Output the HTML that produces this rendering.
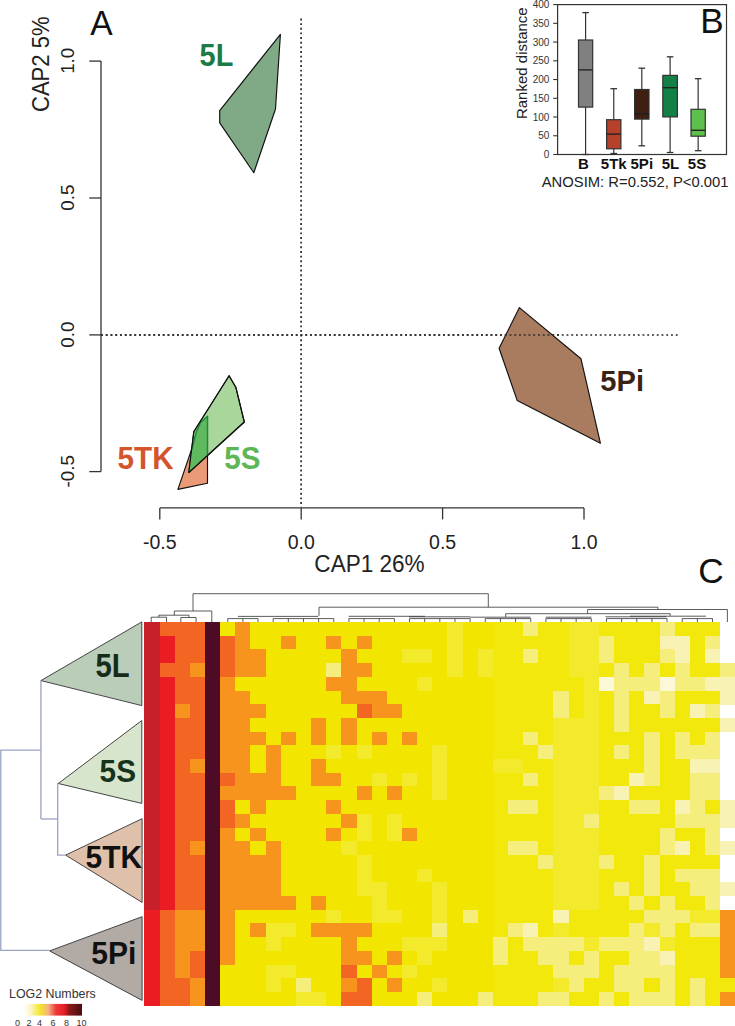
<!DOCTYPE html><html><head><meta charset="utf-8"><style>html,body{margin:0;padding:0;background:#fff;}svg{display:block;}</style></head><body>
<svg width="735" height="1026" viewBox="0 0 735 1026" font-family='"Liberation Sans", sans-serif'>
<rect width="735" height="1026" fill="#fff"/>
<g shape-rendering="crispEdges">
<rect x="144.40" y="622.00" width="15.45" height="14.00" fill="#c8202a"/>
<rect x="159.55" y="622.00" width="45.75" height="14.00" fill="#f26522"/>
<rect x="205.00" y="622.00" width="15.45" height="14.00" fill="#4d0b25"/>
<rect x="220.15" y="622.00" width="15.45" height="14.00" fill="#f2e600"/>
<rect x="235.30" y="622.00" width="15.45" height="14.00" fill="#f7941d"/>
<rect x="250.45" y="622.00" width="197.25" height="14.00" fill="#f2e600"/>
<rect x="447.40" y="622.00" width="15.45" height="14.00" fill="#f3ea2c"/>
<rect x="462.55" y="622.00" width="30.60" height="14.00" fill="#f2e600"/>
<rect x="492.85" y="622.00" width="30.60" height="14.00" fill="#f3e80c"/>
<rect x="523.15" y="622.00" width="15.45" height="14.00" fill="#f5ee7c"/>
<rect x="538.30" y="622.00" width="30.60" height="14.00" fill="#f3e80c"/>
<rect x="568.60" y="622.00" width="30.60" height="14.00" fill="#f3ea2c"/>
<rect x="598.90" y="622.00" width="60.90" height="14.00" fill="#f3e80c"/>
<rect x="659.50" y="622.00" width="15.45" height="14.00" fill="#f5ee7c"/>
<rect x="674.65" y="622.00" width="45.75" height="14.00" fill="#f3e80c"/>
<rect x="144.40" y="635.70" width="15.45" height="14.00" fill="#c8202a"/>
<rect x="159.55" y="635.70" width="15.45" height="14.00" fill="#ec1c24"/>
<rect x="174.70" y="635.70" width="30.60" height="14.00" fill="#f26522"/>
<rect x="205.00" y="635.70" width="15.45" height="14.00" fill="#4d0b25"/>
<rect x="220.15" y="635.70" width="15.45" height="14.00" fill="#f26522"/>
<rect x="235.30" y="635.70" width="15.45" height="14.00" fill="#f7941d"/>
<rect x="250.45" y="635.70" width="30.60" height="14.00" fill="#f2e600"/>
<rect x="280.75" y="635.70" width="15.45" height="14.00" fill="#f7941d"/>
<rect x="295.90" y="635.70" width="30.60" height="14.00" fill="#f2e600"/>
<rect x="326.20" y="635.70" width="15.45" height="14.00" fill="#f7941d"/>
<rect x="341.35" y="635.70" width="15.45" height="14.00" fill="#f2e600"/>
<rect x="356.50" y="635.70" width="15.45" height="14.00" fill="#f7941d"/>
<rect x="371.65" y="635.70" width="76.05" height="14.00" fill="#f2e600"/>
<rect x="447.40" y="635.70" width="15.45" height="14.00" fill="#f3ea2c"/>
<rect x="462.55" y="635.70" width="30.60" height="14.00" fill="#f2e600"/>
<rect x="492.85" y="635.70" width="76.05" height="14.00" fill="#f3e80c"/>
<rect x="568.60" y="635.70" width="30.60" height="14.00" fill="#f3ea2c"/>
<rect x="598.90" y="635.70" width="15.45" height="14.00" fill="#f5ee7c"/>
<rect x="614.05" y="635.70" width="45.75" height="14.00" fill="#f3e80c"/>
<rect x="659.50" y="635.70" width="30.60" height="14.00" fill="#f8f3b4"/>
<rect x="689.80" y="635.70" width="15.45" height="14.00" fill="#f3e80c"/>
<rect x="704.95" y="635.70" width="15.45" height="14.00" fill="#f5ee7c"/>
<rect x="144.40" y="649.40" width="15.45" height="14.00" fill="#c8202a"/>
<rect x="159.55" y="649.40" width="15.45" height="14.00" fill="#ec1c24"/>
<rect x="174.70" y="649.40" width="30.60" height="14.00" fill="#f26522"/>
<rect x="205.00" y="649.40" width="15.45" height="14.00" fill="#4d0b25"/>
<rect x="220.15" y="649.40" width="15.45" height="14.00" fill="#f26522"/>
<rect x="235.30" y="649.40" width="30.60" height="14.00" fill="#f7941d"/>
<rect x="265.60" y="649.40" width="76.05" height="14.00" fill="#f2e600"/>
<rect x="341.35" y="649.40" width="15.45" height="14.00" fill="#f7941d"/>
<rect x="356.50" y="649.40" width="45.75" height="14.00" fill="#f2e600"/>
<rect x="401.95" y="649.40" width="30.60" height="14.00" fill="#f3ea2c"/>
<rect x="432.25" y="649.40" width="15.45" height="14.00" fill="#f2e600"/>
<rect x="447.40" y="649.40" width="15.45" height="14.00" fill="#f3ea2c"/>
<rect x="462.55" y="649.40" width="15.45" height="14.00" fill="#f2e600"/>
<rect x="477.70" y="649.40" width="15.45" height="14.00" fill="#f3ea2c"/>
<rect x="492.85" y="649.40" width="30.60" height="14.00" fill="#f3e80c"/>
<rect x="523.15" y="649.40" width="15.45" height="14.00" fill="#f5ee7c"/>
<rect x="538.30" y="649.40" width="30.60" height="14.00" fill="#f3e80c"/>
<rect x="568.60" y="649.40" width="30.60" height="14.00" fill="#f3ea2c"/>
<rect x="598.90" y="649.40" width="15.45" height="14.00" fill="#f5ee7c"/>
<rect x="614.05" y="649.40" width="45.75" height="14.00" fill="#f3e80c"/>
<rect x="659.50" y="649.40" width="15.45" height="14.00" fill="#f5ee7c"/>
<rect x="674.65" y="649.40" width="15.45" height="14.00" fill="#f8f3b4"/>
<rect x="689.80" y="649.40" width="15.45" height="14.00" fill="#f3e80c"/>
<rect x="704.95" y="649.40" width="15.45" height="14.00" fill="#f8f3b4"/>
<rect x="144.40" y="663.10" width="15.45" height="14.00" fill="#c8202a"/>
<rect x="159.55" y="663.10" width="30.60" height="14.00" fill="#f26522"/>
<rect x="189.85" y="663.10" width="15.45" height="14.00" fill="#f7941d"/>
<rect x="205.00" y="663.10" width="15.45" height="14.00" fill="#4d0b25"/>
<rect x="220.15" y="663.10" width="15.45" height="14.00" fill="#f26522"/>
<rect x="235.30" y="663.10" width="30.60" height="14.00" fill="#f7941d"/>
<rect x="265.60" y="663.10" width="60.90" height="14.00" fill="#f2e600"/>
<rect x="326.20" y="663.10" width="15.45" height="14.00" fill="#f5ee7c"/>
<rect x="341.35" y="663.10" width="30.60" height="14.00" fill="#f7941d"/>
<rect x="371.65" y="663.10" width="76.05" height="14.00" fill="#f2e600"/>
<rect x="447.40" y="663.10" width="15.45" height="14.00" fill="#f3ea2c"/>
<rect x="462.55" y="663.10" width="15.45" height="14.00" fill="#f2e600"/>
<rect x="477.70" y="663.10" width="15.45" height="14.00" fill="#f3ea2c"/>
<rect x="492.85" y="663.10" width="76.05" height="14.00" fill="#f3e80c"/>
<rect x="568.60" y="663.10" width="30.60" height="14.00" fill="#f3ea2c"/>
<rect x="598.90" y="663.10" width="15.45" height="14.00" fill="#f3e80c"/>
<rect x="614.05" y="663.10" width="15.45" height="14.00" fill="#f5ee7c"/>
<rect x="629.20" y="663.10" width="15.45" height="14.00" fill="#f3e80c"/>
<rect x="644.35" y="663.10" width="15.45" height="14.00" fill="#f5ee7c"/>
<rect x="659.50" y="663.10" width="15.45" height="14.00" fill="#f3e80c"/>
<rect x="674.65" y="663.10" width="15.45" height="14.00" fill="#f5ee7c"/>
<rect x="689.80" y="663.10" width="30.60" height="14.00" fill="#f3e80c"/>
<rect x="720.10" y="663.10" width="15.45" height="14.00" fill="#f5ee7c"/>
<rect x="144.40" y="676.80" width="15.45" height="14.00" fill="#c8202a"/>
<rect x="159.55" y="676.80" width="15.45" height="14.00" fill="#ec1c24"/>
<rect x="174.70" y="676.80" width="30.60" height="14.00" fill="#f26522"/>
<rect x="205.00" y="676.80" width="15.45" height="14.00" fill="#4d0b25"/>
<rect x="220.15" y="676.80" width="15.45" height="14.00" fill="#f7941d"/>
<rect x="235.30" y="676.80" width="91.20" height="14.00" fill="#f2e600"/>
<rect x="326.20" y="676.80" width="30.60" height="14.00" fill="#f7941d"/>
<rect x="356.50" y="676.80" width="60.90" height="14.00" fill="#f2e600"/>
<rect x="417.10" y="676.80" width="15.45" height="14.00" fill="#f3ea2c"/>
<rect x="432.25" y="676.80" width="60.90" height="14.00" fill="#f2e600"/>
<rect x="492.85" y="676.80" width="91.20" height="14.00" fill="#f3e80c"/>
<rect x="583.75" y="676.80" width="15.45" height="14.00" fill="#f3ea2c"/>
<rect x="598.90" y="676.80" width="15.45" height="14.00" fill="#fbf8d8"/>
<rect x="614.05" y="676.80" width="45.75" height="14.00" fill="#f5ee7c"/>
<rect x="659.50" y="676.80" width="15.45" height="14.00" fill="#fbf8d8"/>
<rect x="674.65" y="676.80" width="30.60" height="14.00" fill="#f5ee7c"/>
<rect x="704.95" y="676.80" width="30.60" height="14.00" fill="#f8f3b4"/>
<rect x="144.40" y="690.50" width="15.45" height="14.00" fill="#c8202a"/>
<rect x="159.55" y="690.50" width="15.45" height="14.00" fill="#ec1c24"/>
<rect x="174.70" y="690.50" width="30.60" height="14.00" fill="#f26522"/>
<rect x="205.00" y="690.50" width="15.45" height="14.00" fill="#4d0b25"/>
<rect x="220.15" y="690.50" width="30.60" height="14.00" fill="#f7941d"/>
<rect x="250.45" y="690.50" width="91.20" height="14.00" fill="#f2e600"/>
<rect x="341.35" y="690.50" width="45.75" height="14.00" fill="#f7941d"/>
<rect x="386.80" y="690.50" width="106.35" height="14.00" fill="#f2e600"/>
<rect x="492.85" y="690.50" width="60.90" height="14.00" fill="#f3e80c"/>
<rect x="553.45" y="690.50" width="15.45" height="14.00" fill="#f5ee7c"/>
<rect x="568.60" y="690.50" width="15.45" height="14.00" fill="#f3e80c"/>
<rect x="583.75" y="690.50" width="15.45" height="14.00" fill="#f3ea2c"/>
<rect x="598.90" y="690.50" width="15.45" height="14.00" fill="#f3e80c"/>
<rect x="614.05" y="690.50" width="15.45" height="14.00" fill="#f5ee7c"/>
<rect x="629.20" y="690.50" width="15.45" height="14.00" fill="#f3e80c"/>
<rect x="644.35" y="690.50" width="15.45" height="14.00" fill="#f8f3b4"/>
<rect x="659.50" y="690.50" width="15.45" height="14.00" fill="#f5ee7c"/>
<rect x="674.65" y="690.50" width="45.75" height="14.00" fill="#f3e80c"/>
<rect x="720.10" y="690.50" width="15.45" height="14.00" fill="#f8f3b4"/>
<rect x="144.40" y="704.20" width="15.45" height="14.00" fill="#c8202a"/>
<rect x="159.55" y="704.20" width="15.45" height="14.00" fill="#ec1c24"/>
<rect x="174.70" y="704.20" width="15.45" height="14.00" fill="#f7941d"/>
<rect x="189.85" y="704.20" width="15.45" height="14.00" fill="#f26522"/>
<rect x="205.00" y="704.20" width="15.45" height="14.00" fill="#4d0b25"/>
<rect x="220.15" y="704.20" width="45.75" height="14.00" fill="#f7941d"/>
<rect x="265.60" y="704.20" width="91.20" height="14.00" fill="#f2e600"/>
<rect x="356.50" y="704.20" width="15.45" height="14.00" fill="#f26522"/>
<rect x="371.65" y="704.20" width="30.60" height="14.00" fill="#f7941d"/>
<rect x="401.95" y="704.20" width="91.20" height="14.00" fill="#f2e600"/>
<rect x="492.85" y="704.20" width="60.90" height="14.00" fill="#f3e80c"/>
<rect x="553.45" y="704.20" width="15.45" height="14.00" fill="#f5ee7c"/>
<rect x="568.60" y="704.20" width="15.45" height="14.00" fill="#f3e80c"/>
<rect x="583.75" y="704.20" width="15.45" height="14.00" fill="#f3ea2c"/>
<rect x="598.90" y="704.20" width="15.45" height="14.00" fill="#f3e80c"/>
<rect x="614.05" y="704.20" width="15.45" height="14.00" fill="#f5ee7c"/>
<rect x="629.20" y="704.20" width="30.60" height="14.00" fill="#f3e80c"/>
<rect x="659.50" y="704.20" width="15.45" height="14.00" fill="#f5ee7c"/>
<rect x="674.65" y="704.20" width="15.45" height="14.00" fill="#f3e80c"/>
<rect x="689.80" y="704.20" width="15.45" height="14.00" fill="#f8f3b4"/>
<rect x="704.95" y="704.20" width="15.45" height="14.00" fill="#f5ee7c"/>
<rect x="144.40" y="717.90" width="15.45" height="14.00" fill="#c8202a"/>
<rect x="159.55" y="717.90" width="15.45" height="14.00" fill="#ec1c24"/>
<rect x="174.70" y="717.90" width="30.60" height="14.00" fill="#f26522"/>
<rect x="205.00" y="717.90" width="15.45" height="14.00" fill="#4d0b25"/>
<rect x="220.15" y="717.90" width="30.60" height="14.00" fill="#f7941d"/>
<rect x="250.45" y="717.90" width="60.90" height="14.00" fill="#f2e600"/>
<rect x="311.05" y="717.90" width="15.45" height="14.00" fill="#f7941d"/>
<rect x="326.20" y="717.90" width="15.45" height="14.00" fill="#f2e600"/>
<rect x="341.35" y="717.90" width="15.45" height="14.00" fill="#f7941d"/>
<rect x="356.50" y="717.90" width="136.65" height="14.00" fill="#f2e600"/>
<rect x="492.85" y="717.90" width="60.90" height="14.00" fill="#f3e80c"/>
<rect x="553.45" y="717.90" width="45.75" height="14.00" fill="#f3ea2c"/>
<rect x="598.90" y="717.90" width="15.45" height="14.00" fill="#f3e80c"/>
<rect x="614.05" y="717.90" width="15.45" height="14.00" fill="#f5ee7c"/>
<rect x="629.20" y="717.90" width="91.20" height="14.00" fill="#f3e80c"/>
<rect x="720.10" y="717.90" width="15.45" height="14.00" fill="#f8f3b4"/>
<rect x="144.40" y="731.60" width="15.45" height="14.00" fill="#c8202a"/>
<rect x="159.55" y="731.60" width="15.45" height="14.00" fill="#ec1c24"/>
<rect x="174.70" y="731.60" width="30.60" height="14.00" fill="#f26522"/>
<rect x="205.00" y="731.60" width="15.45" height="14.00" fill="#4d0b25"/>
<rect x="220.15" y="731.60" width="45.75" height="14.00" fill="#f7941d"/>
<rect x="265.60" y="731.60" width="15.45" height="14.00" fill="#f2e600"/>
<rect x="280.75" y="731.60" width="15.45" height="14.00" fill="#f7941d"/>
<rect x="295.90" y="731.60" width="15.45" height="14.00" fill="#f2e600"/>
<rect x="311.05" y="731.60" width="15.45" height="14.00" fill="#f7941d"/>
<rect x="326.20" y="731.60" width="15.45" height="14.00" fill="#f2e600"/>
<rect x="341.35" y="731.60" width="15.45" height="14.00" fill="#f7941d"/>
<rect x="356.50" y="731.60" width="15.45" height="14.00" fill="#f2e600"/>
<rect x="371.65" y="731.60" width="15.45" height="14.00" fill="#f7941d"/>
<rect x="386.80" y="731.60" width="15.45" height="14.00" fill="#f2e600"/>
<rect x="401.95" y="731.60" width="15.45" height="14.00" fill="#f7941d"/>
<rect x="417.10" y="731.60" width="76.05" height="14.00" fill="#f2e600"/>
<rect x="492.85" y="731.60" width="30.60" height="14.00" fill="#f3e80c"/>
<rect x="523.15" y="731.60" width="15.45" height="14.00" fill="#f5ee7c"/>
<rect x="538.30" y="731.60" width="15.45" height="14.00" fill="#f3e80c"/>
<rect x="553.45" y="731.60" width="45.75" height="14.00" fill="#f3ea2c"/>
<rect x="598.90" y="731.60" width="45.75" height="14.00" fill="#f3e80c"/>
<rect x="644.35" y="731.60" width="15.45" height="14.00" fill="#f5ee7c"/>
<rect x="659.50" y="731.60" width="15.45" height="14.00" fill="#f3e80c"/>
<rect x="674.65" y="731.60" width="15.45" height="14.00" fill="#f5ee7c"/>
<rect x="689.80" y="731.60" width="15.45" height="14.00" fill="#f3e80c"/>
<rect x="704.95" y="731.60" width="15.45" height="14.00" fill="#f5ee7c"/>
<rect x="144.40" y="745.30" width="15.45" height="14.00" fill="#c8202a"/>
<rect x="159.55" y="745.30" width="15.45" height="14.00" fill="#ec1c24"/>
<rect x="174.70" y="745.30" width="30.60" height="14.00" fill="#f26522"/>
<rect x="205.00" y="745.30" width="15.45" height="14.00" fill="#4d0b25"/>
<rect x="220.15" y="745.30" width="30.60" height="14.00" fill="#f7941d"/>
<rect x="250.45" y="745.30" width="15.45" height="14.00" fill="#f2e600"/>
<rect x="265.60" y="745.30" width="15.45" height="14.00" fill="#f7941d"/>
<rect x="280.75" y="745.30" width="45.75" height="14.00" fill="#f2e600"/>
<rect x="326.20" y="745.30" width="15.45" height="14.00" fill="#f3ea2c"/>
<rect x="341.35" y="745.30" width="15.45" height="14.00" fill="#f2e600"/>
<rect x="356.50" y="745.30" width="15.45" height="14.00" fill="#f3ea2c"/>
<rect x="371.65" y="745.30" width="60.90" height="14.00" fill="#f2e600"/>
<rect x="432.25" y="745.30" width="15.45" height="14.00" fill="#f3ea2c"/>
<rect x="447.40" y="745.30" width="45.75" height="14.00" fill="#f2e600"/>
<rect x="492.85" y="745.30" width="45.75" height="14.00" fill="#f3e80c"/>
<rect x="538.30" y="745.30" width="15.45" height="14.00" fill="#f5ee7c"/>
<rect x="553.45" y="745.30" width="45.75" height="14.00" fill="#f3ea2c"/>
<rect x="598.90" y="745.30" width="15.45" height="14.00" fill="#f3e80c"/>
<rect x="614.05" y="745.30" width="15.45" height="14.00" fill="#f5ee7c"/>
<rect x="629.20" y="745.30" width="15.45" height="14.00" fill="#f3e80c"/>
<rect x="644.35" y="745.30" width="15.45" height="14.00" fill="#f5ee7c"/>
<rect x="659.50" y="745.30" width="15.45" height="14.00" fill="#f3e80c"/>
<rect x="674.65" y="745.30" width="45.75" height="14.00" fill="#f5ee7c"/>
<rect x="144.40" y="759.00" width="15.45" height="14.00" fill="#c8202a"/>
<rect x="159.55" y="759.00" width="15.45" height="14.00" fill="#ec1c24"/>
<rect x="174.70" y="759.00" width="15.45" height="14.00" fill="#f26522"/>
<rect x="189.85" y="759.00" width="15.45" height="14.00" fill="#f7941d"/>
<rect x="205.00" y="759.00" width="15.45" height="14.00" fill="#4d0b25"/>
<rect x="220.15" y="759.00" width="30.60" height="14.00" fill="#f7941d"/>
<rect x="250.45" y="759.00" width="15.45" height="14.00" fill="#f2e600"/>
<rect x="265.60" y="759.00" width="15.45" height="14.00" fill="#f7941d"/>
<rect x="280.75" y="759.00" width="30.60" height="14.00" fill="#f2e600"/>
<rect x="311.05" y="759.00" width="15.45" height="14.00" fill="#f7941d"/>
<rect x="326.20" y="759.00" width="106.35" height="14.00" fill="#f2e600"/>
<rect x="432.25" y="759.00" width="15.45" height="14.00" fill="#f3ea2c"/>
<rect x="447.40" y="759.00" width="45.75" height="14.00" fill="#f2e600"/>
<rect x="492.85" y="759.00" width="30.60" height="14.00" fill="#f3ea2c"/>
<rect x="523.15" y="759.00" width="30.60" height="14.00" fill="#f3e80c"/>
<rect x="553.45" y="759.00" width="45.75" height="14.00" fill="#f3ea2c"/>
<rect x="598.90" y="759.00" width="45.75" height="14.00" fill="#f3e80c"/>
<rect x="644.35" y="759.00" width="15.45" height="14.00" fill="#f5ee7c"/>
<rect x="659.50" y="759.00" width="30.60" height="14.00" fill="#f3e80c"/>
<rect x="689.80" y="759.00" width="30.60" height="14.00" fill="#f8f3b4"/>
<rect x="144.40" y="772.70" width="15.45" height="14.00" fill="#c8202a"/>
<rect x="159.55" y="772.70" width="15.45" height="14.00" fill="#ec1c24"/>
<rect x="174.70" y="772.70" width="30.60" height="14.00" fill="#f26522"/>
<rect x="205.00" y="772.70" width="15.45" height="14.00" fill="#4d0b25"/>
<rect x="220.15" y="772.70" width="15.45" height="14.00" fill="#f26522"/>
<rect x="235.30" y="772.70" width="45.75" height="14.00" fill="#f7941d"/>
<rect x="280.75" y="772.70" width="30.60" height="14.00" fill="#f2e600"/>
<rect x="311.05" y="772.70" width="30.60" height="14.00" fill="#f7941d"/>
<rect x="341.35" y="772.70" width="30.60" height="14.00" fill="#f2e600"/>
<rect x="371.65" y="772.70" width="15.45" height="14.00" fill="#f3ea2c"/>
<rect x="386.80" y="772.70" width="15.45" height="14.00" fill="#f2e600"/>
<rect x="401.95" y="772.70" width="15.45" height="14.00" fill="#f3ea2c"/>
<rect x="417.10" y="772.70" width="15.45" height="14.00" fill="#f2e600"/>
<rect x="432.25" y="772.70" width="15.45" height="14.00" fill="#f3ea2c"/>
<rect x="447.40" y="772.70" width="45.75" height="14.00" fill="#f2e600"/>
<rect x="492.85" y="772.70" width="30.60" height="14.00" fill="#f3e80c"/>
<rect x="523.15" y="772.70" width="15.45" height="14.00" fill="#f5ee7c"/>
<rect x="538.30" y="772.70" width="15.45" height="14.00" fill="#f3e80c"/>
<rect x="553.45" y="772.70" width="45.75" height="14.00" fill="#f3ea2c"/>
<rect x="598.90" y="772.70" width="30.60" height="14.00" fill="#f3e80c"/>
<rect x="629.20" y="772.70" width="15.45" height="14.00" fill="#f8f3b4"/>
<rect x="644.35" y="772.70" width="15.45" height="14.00" fill="#f5ee7c"/>
<rect x="659.50" y="772.70" width="30.60" height="14.00" fill="#f3e80c"/>
<rect x="689.80" y="772.70" width="30.60" height="14.00" fill="#f5ee7c"/>
<rect x="144.40" y="786.40" width="15.45" height="14.00" fill="#c8202a"/>
<rect x="159.55" y="786.40" width="15.45" height="14.00" fill="#ec1c24"/>
<rect x="174.70" y="786.40" width="30.60" height="14.00" fill="#f26522"/>
<rect x="205.00" y="786.40" width="15.45" height="14.00" fill="#4d0b25"/>
<rect x="220.15" y="786.40" width="76.05" height="14.00" fill="#f7941d"/>
<rect x="295.90" y="786.40" width="60.90" height="14.00" fill="#f2e600"/>
<rect x="356.50" y="786.40" width="15.45" height="14.00" fill="#f7941d"/>
<rect x="371.65" y="786.40" width="15.45" height="14.00" fill="#f2e600"/>
<rect x="386.80" y="786.40" width="15.45" height="14.00" fill="#f7941d"/>
<rect x="401.95" y="786.40" width="30.60" height="14.00" fill="#f2e600"/>
<rect x="432.25" y="786.40" width="15.45" height="14.00" fill="#f3ea2c"/>
<rect x="447.40" y="786.40" width="45.75" height="14.00" fill="#f2e600"/>
<rect x="492.85" y="786.40" width="60.90" height="14.00" fill="#f3e80c"/>
<rect x="553.45" y="786.40" width="45.75" height="14.00" fill="#f3ea2c"/>
<rect x="598.90" y="786.40" width="15.45" height="14.00" fill="#f5ee7c"/>
<rect x="614.05" y="786.40" width="15.45" height="14.00" fill="#f8f3b4"/>
<rect x="629.20" y="786.40" width="60.90" height="14.00" fill="#f3e80c"/>
<rect x="689.80" y="786.40" width="30.60" height="14.00" fill="#f5ee7c"/>
<rect x="144.40" y="800.10" width="15.45" height="14.00" fill="#c8202a"/>
<rect x="159.55" y="800.10" width="15.45" height="14.00" fill="#ec1c24"/>
<rect x="174.70" y="800.10" width="30.60" height="14.00" fill="#f26522"/>
<rect x="205.00" y="800.10" width="15.45" height="14.00" fill="#4d0b25"/>
<rect x="220.15" y="800.10" width="15.45" height="14.00" fill="#f26522"/>
<rect x="235.30" y="800.10" width="15.45" height="14.00" fill="#f2e600"/>
<rect x="250.45" y="800.10" width="15.45" height="14.00" fill="#f7941d"/>
<rect x="265.60" y="800.10" width="60.90" height="14.00" fill="#f2e600"/>
<rect x="326.20" y="800.10" width="15.45" height="14.00" fill="#f7941d"/>
<rect x="341.35" y="800.10" width="151.80" height="14.00" fill="#f2e600"/>
<rect x="492.85" y="800.10" width="15.45" height="14.00" fill="#f3e80c"/>
<rect x="508.00" y="800.10" width="30.60" height="14.00" fill="#f5ee7c"/>
<rect x="538.30" y="800.10" width="15.45" height="14.00" fill="#f3e80c"/>
<rect x="553.45" y="800.10" width="45.75" height="14.00" fill="#f3ea2c"/>
<rect x="598.90" y="800.10" width="30.60" height="14.00" fill="#f3e80c"/>
<rect x="629.20" y="800.10" width="30.60" height="14.00" fill="#f5ee7c"/>
<rect x="659.50" y="800.10" width="15.45" height="14.00" fill="#f3e80c"/>
<rect x="674.65" y="800.10" width="15.45" height="14.00" fill="#f8f3b4"/>
<rect x="689.80" y="800.10" width="15.45" height="14.00" fill="#f5ee7c"/>
<rect x="704.95" y="800.10" width="15.45" height="14.00" fill="#f3e80c"/>
<rect x="720.10" y="800.10" width="15.45" height="14.00" fill="#f8f3b4"/>
<rect x="144.40" y="813.80" width="15.45" height="14.00" fill="#c8202a"/>
<rect x="159.55" y="813.80" width="15.45" height="14.00" fill="#ec1c24"/>
<rect x="174.70" y="813.80" width="30.60" height="14.00" fill="#f26522"/>
<rect x="205.00" y="813.80" width="15.45" height="14.00" fill="#4d0b25"/>
<rect x="220.15" y="813.80" width="15.45" height="14.00" fill="#f26522"/>
<rect x="235.30" y="813.80" width="15.45" height="14.00" fill="#f7941d"/>
<rect x="250.45" y="813.80" width="91.20" height="14.00" fill="#f2e600"/>
<rect x="341.35" y="813.80" width="15.45" height="14.00" fill="#f7941d"/>
<rect x="356.50" y="813.80" width="15.45" height="14.00" fill="#f3ea2c"/>
<rect x="371.65" y="813.80" width="15.45" height="14.00" fill="#f2e600"/>
<rect x="386.80" y="813.80" width="15.45" height="14.00" fill="#f3ea2c"/>
<rect x="401.95" y="813.80" width="91.20" height="14.00" fill="#f2e600"/>
<rect x="492.85" y="813.80" width="60.90" height="14.00" fill="#f3e80c"/>
<rect x="553.45" y="813.80" width="30.60" height="14.00" fill="#f3ea2c"/>
<rect x="583.75" y="813.80" width="15.45" height="14.00" fill="#f5ee7c"/>
<rect x="598.90" y="813.80" width="76.05" height="14.00" fill="#f3e80c"/>
<rect x="674.65" y="813.80" width="45.75" height="14.00" fill="#f5ee7c"/>
<rect x="720.10" y="813.80" width="15.45" height="14.00" fill="#f8f3b4"/>
<rect x="144.40" y="827.50" width="15.45" height="14.00" fill="#c8202a"/>
<rect x="159.55" y="827.50" width="15.45" height="14.00" fill="#ec1c24"/>
<rect x="174.70" y="827.50" width="30.60" height="14.00" fill="#f26522"/>
<rect x="205.00" y="827.50" width="15.45" height="14.00" fill="#4d0b25"/>
<rect x="220.15" y="827.50" width="15.45" height="14.00" fill="#f7941d"/>
<rect x="235.30" y="827.50" width="15.45" height="14.00" fill="#f2e600"/>
<rect x="250.45" y="827.50" width="15.45" height="14.00" fill="#f7941d"/>
<rect x="265.60" y="827.50" width="60.90" height="14.00" fill="#f2e600"/>
<rect x="326.20" y="827.50" width="15.45" height="14.00" fill="#f7941d"/>
<rect x="341.35" y="827.50" width="15.45" height="14.00" fill="#f2e600"/>
<rect x="356.50" y="827.50" width="15.45" height="14.00" fill="#f3ea2c"/>
<rect x="371.65" y="827.50" width="15.45" height="14.00" fill="#f2e600"/>
<rect x="386.80" y="827.50" width="15.45" height="14.00" fill="#f3ea2c"/>
<rect x="401.95" y="827.50" width="15.45" height="14.00" fill="#f7941d"/>
<rect x="417.10" y="827.50" width="76.05" height="14.00" fill="#f2e600"/>
<rect x="492.85" y="827.50" width="60.90" height="14.00" fill="#f3e80c"/>
<rect x="553.45" y="827.50" width="45.75" height="14.00" fill="#f3ea2c"/>
<rect x="598.90" y="827.50" width="60.90" height="14.00" fill="#f3e80c"/>
<rect x="659.50" y="827.50" width="15.45" height="14.00" fill="#f5ee7c"/>
<rect x="674.65" y="827.50" width="30.60" height="14.00" fill="#f3e80c"/>
<rect x="704.95" y="827.50" width="15.45" height="14.00" fill="#f5ee7c"/>
<rect x="144.40" y="841.20" width="15.45" height="14.00" fill="#c8202a"/>
<rect x="159.55" y="841.20" width="15.45" height="14.00" fill="#ec1c24"/>
<rect x="174.70" y="841.20" width="15.45" height="14.00" fill="#f26522"/>
<rect x="189.85" y="841.20" width="15.45" height="14.00" fill="#f7941d"/>
<rect x="205.00" y="841.20" width="15.45" height="14.00" fill="#4d0b25"/>
<rect x="220.15" y="841.20" width="30.60" height="14.00" fill="#f7941d"/>
<rect x="250.45" y="841.20" width="15.45" height="14.00" fill="#f2e600"/>
<rect x="265.60" y="841.20" width="15.45" height="14.00" fill="#f7941d"/>
<rect x="280.75" y="841.20" width="60.90" height="14.00" fill="#f2e600"/>
<rect x="341.35" y="841.20" width="15.45" height="14.00" fill="#f3ea2c"/>
<rect x="356.50" y="841.20" width="136.65" height="14.00" fill="#f2e600"/>
<rect x="492.85" y="841.20" width="15.45" height="14.00" fill="#f3e80c"/>
<rect x="508.00" y="841.20" width="30.60" height="14.00" fill="#f5ee7c"/>
<rect x="538.30" y="841.20" width="15.45" height="14.00" fill="#f3e80c"/>
<rect x="553.45" y="841.20" width="45.75" height="14.00" fill="#f3ea2c"/>
<rect x="598.90" y="841.20" width="60.90" height="14.00" fill="#f3e80c"/>
<rect x="659.50" y="841.20" width="15.45" height="14.00" fill="#f5ee7c"/>
<rect x="674.65" y="841.20" width="15.45" height="14.00" fill="#f8f3b4"/>
<rect x="689.80" y="841.20" width="15.45" height="14.00" fill="#f3e80c"/>
<rect x="704.95" y="841.20" width="15.45" height="14.00" fill="#f5ee7c"/>
<rect x="720.10" y="841.20" width="15.45" height="14.00" fill="#f8f3b4"/>
<rect x="144.40" y="854.90" width="15.45" height="14.00" fill="#c8202a"/>
<rect x="159.55" y="854.90" width="15.45" height="14.00" fill="#ec1c24"/>
<rect x="174.70" y="854.90" width="30.60" height="14.00" fill="#f26522"/>
<rect x="205.00" y="854.90" width="15.45" height="14.00" fill="#4d0b25"/>
<rect x="220.15" y="854.90" width="60.90" height="14.00" fill="#f7941d"/>
<rect x="280.75" y="854.90" width="76.05" height="14.00" fill="#f2e600"/>
<rect x="356.50" y="854.90" width="15.45" height="14.00" fill="#f3ea2c"/>
<rect x="371.65" y="854.90" width="121.50" height="14.00" fill="#f2e600"/>
<rect x="492.85" y="854.90" width="45.75" height="14.00" fill="#f3e80c"/>
<rect x="538.30" y="854.90" width="15.45" height="14.00" fill="#f5ee7c"/>
<rect x="553.45" y="854.90" width="45.75" height="14.00" fill="#f3ea2c"/>
<rect x="598.90" y="854.90" width="15.45" height="14.00" fill="#f5ee7c"/>
<rect x="614.05" y="854.90" width="30.60" height="14.00" fill="#f3e80c"/>
<rect x="644.35" y="854.90" width="15.45" height="14.00" fill="#f5ee7c"/>
<rect x="659.50" y="854.90" width="60.90" height="14.00" fill="#f3e80c"/>
<rect x="144.40" y="868.60" width="15.45" height="14.00" fill="#c8202a"/>
<rect x="159.55" y="868.60" width="15.45" height="14.00" fill="#ec1c24"/>
<rect x="174.70" y="868.60" width="30.60" height="14.00" fill="#f26522"/>
<rect x="205.00" y="868.60" width="15.45" height="14.00" fill="#4d0b25"/>
<rect x="220.15" y="868.60" width="60.90" height="14.00" fill="#f7941d"/>
<rect x="280.75" y="868.60" width="76.05" height="14.00" fill="#f2e600"/>
<rect x="356.50" y="868.60" width="15.45" height="14.00" fill="#f3ea2c"/>
<rect x="371.65" y="868.60" width="45.75" height="14.00" fill="#f2e600"/>
<rect x="417.10" y="868.60" width="15.45" height="14.00" fill="#f3ea2c"/>
<rect x="432.25" y="868.60" width="60.90" height="14.00" fill="#f2e600"/>
<rect x="492.85" y="868.60" width="60.90" height="14.00" fill="#f3e80c"/>
<rect x="553.45" y="868.60" width="45.75" height="14.00" fill="#f3ea2c"/>
<rect x="598.90" y="868.60" width="45.75" height="14.00" fill="#f3e80c"/>
<rect x="644.35" y="868.60" width="15.45" height="14.00" fill="#f5ee7c"/>
<rect x="659.50" y="868.60" width="15.45" height="14.00" fill="#f3e80c"/>
<rect x="674.65" y="868.60" width="45.75" height="14.00" fill="#f5ee7c"/>
<rect x="144.40" y="882.30" width="15.45" height="14.00" fill="#c8202a"/>
<rect x="159.55" y="882.30" width="15.45" height="14.00" fill="#ec1c24"/>
<rect x="174.70" y="882.30" width="30.60" height="14.00" fill="#f26522"/>
<rect x="205.00" y="882.30" width="15.45" height="14.00" fill="#4d0b25"/>
<rect x="220.15" y="882.30" width="60.90" height="14.00" fill="#f7941d"/>
<rect x="280.75" y="882.30" width="76.05" height="14.00" fill="#f2e600"/>
<rect x="356.50" y="882.30" width="30.60" height="14.00" fill="#f3ea2c"/>
<rect x="386.80" y="882.30" width="45.75" height="14.00" fill="#f2e600"/>
<rect x="432.25" y="882.30" width="15.45" height="14.00" fill="#f3ea2c"/>
<rect x="447.40" y="882.30" width="45.75" height="14.00" fill="#f2e600"/>
<rect x="492.85" y="882.30" width="60.90" height="14.00" fill="#f3e80c"/>
<rect x="553.45" y="882.30" width="45.75" height="14.00" fill="#f3ea2c"/>
<rect x="598.90" y="882.30" width="15.45" height="14.00" fill="#f3e80c"/>
<rect x="614.05" y="882.30" width="15.45" height="14.00" fill="#f5ee7c"/>
<rect x="629.20" y="882.30" width="15.45" height="14.00" fill="#f3e80c"/>
<rect x="644.35" y="882.30" width="15.45" height="14.00" fill="#f5ee7c"/>
<rect x="659.50" y="882.30" width="30.60" height="14.00" fill="#f3e80c"/>
<rect x="689.80" y="882.30" width="30.60" height="14.00" fill="#f5ee7c"/>
<rect x="720.10" y="882.30" width="15.45" height="14.00" fill="#f8f3b4"/>
<rect x="144.40" y="896.00" width="15.45" height="14.00" fill="#c8202a"/>
<rect x="159.55" y="896.00" width="15.45" height="14.00" fill="#ec1c24"/>
<rect x="174.70" y="896.00" width="30.60" height="14.00" fill="#f26522"/>
<rect x="205.00" y="896.00" width="15.45" height="14.00" fill="#4d0b25"/>
<rect x="220.15" y="896.00" width="76.05" height="14.00" fill="#f7941d"/>
<rect x="295.90" y="896.00" width="15.45" height="14.00" fill="#f2e600"/>
<rect x="311.05" y="896.00" width="15.45" height="14.00" fill="#f7941d"/>
<rect x="326.20" y="896.00" width="45.75" height="14.00" fill="#f2e600"/>
<rect x="371.65" y="896.00" width="15.45" height="14.00" fill="#f3ea2c"/>
<rect x="386.80" y="896.00" width="45.75" height="14.00" fill="#f2e600"/>
<rect x="432.25" y="896.00" width="15.45" height="14.00" fill="#f3ea2c"/>
<rect x="447.40" y="896.00" width="45.75" height="14.00" fill="#f2e600"/>
<rect x="492.85" y="896.00" width="60.90" height="14.00" fill="#f3e80c"/>
<rect x="553.45" y="896.00" width="45.75" height="14.00" fill="#f3ea2c"/>
<rect x="598.90" y="896.00" width="30.60" height="14.00" fill="#f3e80c"/>
<rect x="629.20" y="896.00" width="15.45" height="14.00" fill="#f5ee7c"/>
<rect x="644.35" y="896.00" width="15.45" height="14.00" fill="#f3e80c"/>
<rect x="659.50" y="896.00" width="15.45" height="14.00" fill="#f5ee7c"/>
<rect x="674.65" y="896.00" width="30.60" height="14.00" fill="#f3e80c"/>
<rect x="704.95" y="896.00" width="15.45" height="14.00" fill="#f5ee7c"/>
<rect x="144.40" y="909.70" width="15.45" height="14.00" fill="#ec1c24"/>
<rect x="159.55" y="909.70" width="15.45" height="14.00" fill="#f26522"/>
<rect x="174.70" y="909.70" width="30.60" height="14.00" fill="#f7941d"/>
<rect x="205.00" y="909.70" width="15.45" height="14.00" fill="#4d0b25"/>
<rect x="220.15" y="909.70" width="15.45" height="14.00" fill="#f7941d"/>
<rect x="235.30" y="909.70" width="91.20" height="14.00" fill="#f2e600"/>
<rect x="326.20" y="909.70" width="15.45" height="14.00" fill="#f3ea2c"/>
<rect x="341.35" y="909.70" width="30.60" height="14.00" fill="#f2e600"/>
<rect x="371.65" y="909.70" width="30.60" height="14.00" fill="#f3ea2c"/>
<rect x="401.95" y="909.70" width="30.60" height="14.00" fill="#f2e600"/>
<rect x="432.25" y="909.70" width="15.45" height="14.00" fill="#f3ea2c"/>
<rect x="447.40" y="909.70" width="15.45" height="14.00" fill="#f2e600"/>
<rect x="462.55" y="909.70" width="15.45" height="14.00" fill="#f5ee7c"/>
<rect x="477.70" y="909.70" width="15.45" height="14.00" fill="#f2e600"/>
<rect x="492.85" y="909.70" width="60.90" height="14.00" fill="#f3e80c"/>
<rect x="553.45" y="909.70" width="15.45" height="14.00" fill="#f8f3b4"/>
<rect x="568.60" y="909.70" width="76.05" height="14.00" fill="#f3e80c"/>
<rect x="644.35" y="909.70" width="45.75" height="14.00" fill="#f5ee7c"/>
<rect x="689.80" y="909.70" width="30.60" height="14.00" fill="#f3ea2c"/>
<rect x="720.10" y="909.70" width="15.45" height="14.00" fill="#f7941d"/>
<rect x="144.40" y="923.40" width="15.45" height="14.00" fill="#ec1c24"/>
<rect x="159.55" y="923.40" width="15.45" height="14.00" fill="#f26522"/>
<rect x="174.70" y="923.40" width="30.60" height="14.00" fill="#f7941d"/>
<rect x="205.00" y="923.40" width="15.45" height="14.00" fill="#4d0b25"/>
<rect x="220.15" y="923.40" width="15.45" height="14.00" fill="#f7941d"/>
<rect x="235.30" y="923.40" width="15.45" height="14.00" fill="#f2e600"/>
<rect x="250.45" y="923.40" width="15.45" height="14.00" fill="#f7941d"/>
<rect x="265.60" y="923.40" width="30.60" height="14.00" fill="#f3ea2c"/>
<rect x="295.90" y="923.40" width="15.45" height="14.00" fill="#f2e600"/>
<rect x="311.05" y="923.40" width="60.90" height="14.00" fill="#f7941d"/>
<rect x="371.65" y="923.40" width="60.90" height="14.00" fill="#f2e600"/>
<rect x="432.25" y="923.40" width="15.45" height="14.00" fill="#f5ee7c"/>
<rect x="447.40" y="923.40" width="45.75" height="14.00" fill="#f2e600"/>
<rect x="492.85" y="923.40" width="15.45" height="14.00" fill="#f3e80c"/>
<rect x="508.00" y="923.40" width="15.45" height="14.00" fill="#f5ee7c"/>
<rect x="523.15" y="923.40" width="15.45" height="14.00" fill="#f8f3b4"/>
<rect x="538.30" y="923.40" width="15.45" height="14.00" fill="#f3e80c"/>
<rect x="553.45" y="923.40" width="15.45" height="14.00" fill="#f3ea2c"/>
<rect x="568.60" y="923.40" width="60.90" height="14.00" fill="#f3e80c"/>
<rect x="629.20" y="923.40" width="15.45" height="14.00" fill="#f5ee7c"/>
<rect x="644.35" y="923.40" width="15.45" height="14.00" fill="#f3ea2c"/>
<rect x="659.50" y="923.40" width="15.45" height="14.00" fill="#f5ee7c"/>
<rect x="674.65" y="923.40" width="15.45" height="14.00" fill="#f3e80c"/>
<rect x="689.80" y="923.40" width="30.60" height="14.00" fill="#f5ee7c"/>
<rect x="720.10" y="923.40" width="15.45" height="14.00" fill="#f7941d"/>
<rect x="144.40" y="937.10" width="15.45" height="14.00" fill="#ec1c24"/>
<rect x="159.55" y="937.10" width="15.45" height="14.00" fill="#f26522"/>
<rect x="174.70" y="937.10" width="30.60" height="14.00" fill="#f7941d"/>
<rect x="205.00" y="937.10" width="15.45" height="14.00" fill="#4d0b25"/>
<rect x="220.15" y="937.10" width="15.45" height="14.00" fill="#f7941d"/>
<rect x="235.30" y="937.10" width="30.60" height="14.00" fill="#f2e600"/>
<rect x="265.60" y="937.10" width="15.45" height="14.00" fill="#f3ea2c"/>
<rect x="280.75" y="937.10" width="60.90" height="14.00" fill="#f2e600"/>
<rect x="341.35" y="937.10" width="15.45" height="14.00" fill="#f7941d"/>
<rect x="356.50" y="937.10" width="45.75" height="14.00" fill="#f2e600"/>
<rect x="401.95" y="937.10" width="45.75" height="14.00" fill="#f3ea2c"/>
<rect x="447.40" y="937.10" width="45.75" height="14.00" fill="#f2e600"/>
<rect x="492.85" y="937.10" width="15.45" height="14.00" fill="#f5ee7c"/>
<rect x="508.00" y="937.10" width="15.45" height="14.00" fill="#f3e80c"/>
<rect x="523.15" y="937.10" width="60.90" height="14.00" fill="#f5ee7c"/>
<rect x="583.75" y="937.10" width="15.45" height="14.00" fill="#f3ea2c"/>
<rect x="598.90" y="937.10" width="45.75" height="14.00" fill="#f5ee7c"/>
<rect x="644.35" y="937.10" width="15.45" height="14.00" fill="#f8f3b4"/>
<rect x="659.50" y="937.10" width="15.45" height="14.00" fill="#f3ea2c"/>
<rect x="674.65" y="937.10" width="45.75" height="14.00" fill="#f3e80c"/>
<rect x="720.10" y="937.10" width="15.45" height="14.00" fill="#f7941d"/>
<rect x="144.40" y="950.80" width="15.45" height="14.00" fill="#ec1c24"/>
<rect x="159.55" y="950.80" width="15.45" height="14.00" fill="#f26522"/>
<rect x="174.70" y="950.80" width="15.45" height="14.00" fill="#f7941d"/>
<rect x="189.85" y="950.80" width="15.45" height="14.00" fill="#f26522"/>
<rect x="205.00" y="950.80" width="15.45" height="14.00" fill="#4d0b25"/>
<rect x="220.15" y="950.80" width="15.45" height="14.00" fill="#f7941d"/>
<rect x="235.30" y="950.80" width="106.35" height="14.00" fill="#f2e600"/>
<rect x="341.35" y="950.80" width="30.60" height="14.00" fill="#f7941d"/>
<rect x="371.65" y="950.80" width="15.45" height="14.00" fill="#f2e600"/>
<rect x="386.80" y="950.80" width="15.45" height="14.00" fill="#f7941d"/>
<rect x="401.95" y="950.80" width="15.45" height="14.00" fill="#f2e600"/>
<rect x="417.10" y="950.80" width="15.45" height="14.00" fill="#f3ea2c"/>
<rect x="432.25" y="950.80" width="60.90" height="14.00" fill="#f2e600"/>
<rect x="492.85" y="950.80" width="15.45" height="14.00" fill="#f5ee7c"/>
<rect x="508.00" y="950.80" width="30.60" height="14.00" fill="#f3e80c"/>
<rect x="538.30" y="950.80" width="30.60" height="14.00" fill="#f5ee7c"/>
<rect x="568.60" y="950.80" width="15.45" height="14.00" fill="#f3e80c"/>
<rect x="583.75" y="950.80" width="15.45" height="14.00" fill="#f5ee7c"/>
<rect x="598.90" y="950.80" width="30.60" height="14.00" fill="#f3e80c"/>
<rect x="629.20" y="950.80" width="30.60" height="14.00" fill="#f5ee7c"/>
<rect x="659.50" y="950.80" width="15.45" height="14.00" fill="#f8f3b4"/>
<rect x="674.65" y="950.80" width="45.75" height="14.00" fill="#f3e80c"/>
<rect x="720.10" y="950.80" width="15.45" height="14.00" fill="#f7941d"/>
<rect x="144.40" y="964.50" width="15.45" height="14.00" fill="#ec1c24"/>
<rect x="159.55" y="964.50" width="15.45" height="14.00" fill="#f26522"/>
<rect x="174.70" y="964.50" width="15.45" height="14.00" fill="#f7941d"/>
<rect x="189.85" y="964.50" width="15.45" height="14.00" fill="#f26522"/>
<rect x="205.00" y="964.50" width="15.45" height="14.00" fill="#4d0b25"/>
<rect x="220.15" y="964.50" width="45.75" height="14.00" fill="#f2e600"/>
<rect x="265.60" y="964.50" width="30.60" height="14.00" fill="#f3ea2c"/>
<rect x="295.90" y="964.50" width="45.75" height="14.00" fill="#f2e600"/>
<rect x="341.35" y="964.50" width="15.45" height="14.00" fill="#f26522"/>
<rect x="356.50" y="964.50" width="15.45" height="14.00" fill="#f2e600"/>
<rect x="371.65" y="964.50" width="15.45" height="14.00" fill="#f7941d"/>
<rect x="386.80" y="964.50" width="15.45" height="14.00" fill="#f2e600"/>
<rect x="401.95" y="964.50" width="15.45" height="14.00" fill="#f3ea2c"/>
<rect x="417.10" y="964.50" width="76.05" height="14.00" fill="#f2e600"/>
<rect x="492.85" y="964.50" width="60.90" height="14.00" fill="#f3e80c"/>
<rect x="553.45" y="964.50" width="45.75" height="14.00" fill="#f5ee7c"/>
<rect x="598.90" y="964.50" width="15.45" height="14.00" fill="#f3e80c"/>
<rect x="614.05" y="964.50" width="60.90" height="14.00" fill="#f5ee7c"/>
<rect x="674.65" y="964.50" width="45.75" height="14.00" fill="#f3e80c"/>
<rect x="720.10" y="964.50" width="15.45" height="14.00" fill="#f7941d"/>
<rect x="144.40" y="978.20" width="15.45" height="14.00" fill="#ec1c24"/>
<rect x="159.55" y="978.20" width="30.60" height="14.00" fill="#f26522"/>
<rect x="189.85" y="978.20" width="15.45" height="14.00" fill="#f7941d"/>
<rect x="205.00" y="978.20" width="15.45" height="14.00" fill="#4d0b25"/>
<rect x="220.15" y="978.20" width="45.75" height="14.00" fill="#f2e600"/>
<rect x="265.60" y="978.20" width="15.45" height="14.00" fill="#f3ea2c"/>
<rect x="280.75" y="978.20" width="15.45" height="14.00" fill="#f2e600"/>
<rect x="295.90" y="978.20" width="15.45" height="14.00" fill="#f5ee7c"/>
<rect x="311.05" y="978.20" width="30.60" height="14.00" fill="#f2e600"/>
<rect x="341.35" y="978.20" width="15.45" height="14.00" fill="#f7941d"/>
<rect x="356.50" y="978.20" width="15.45" height="14.00" fill="#f26522"/>
<rect x="371.65" y="978.20" width="15.45" height="14.00" fill="#f2e600"/>
<rect x="386.80" y="978.20" width="15.45" height="14.00" fill="#f7941d"/>
<rect x="401.95" y="978.20" width="30.60" height="14.00" fill="#f2e600"/>
<rect x="432.25" y="978.20" width="15.45" height="14.00" fill="#f3ea2c"/>
<rect x="447.40" y="978.20" width="45.75" height="14.00" fill="#f2e600"/>
<rect x="492.85" y="978.20" width="60.90" height="14.00" fill="#f3e80c"/>
<rect x="553.45" y="978.20" width="15.45" height="14.00" fill="#f3ea2c"/>
<rect x="568.60" y="978.20" width="15.45" height="14.00" fill="#f5ee7c"/>
<rect x="583.75" y="978.20" width="30.60" height="14.00" fill="#f3e80c"/>
<rect x="614.05" y="978.20" width="30.60" height="14.00" fill="#f5ee7c"/>
<rect x="644.35" y="978.20" width="15.45" height="14.00" fill="#f3e80c"/>
<rect x="659.50" y="978.20" width="15.45" height="14.00" fill="#f5ee7c"/>
<rect x="674.65" y="978.20" width="15.45" height="14.00" fill="#f3e80c"/>
<rect x="689.80" y="978.20" width="15.45" height="14.00" fill="#f5ee7c"/>
<rect x="704.95" y="978.20" width="30.60" height="14.00" fill="#f3e80c"/>
<rect x="144.40" y="991.90" width="15.45" height="14.00" fill="#ec1c24"/>
<rect x="159.55" y="991.90" width="30.60" height="14.00" fill="#f26522"/>
<rect x="189.85" y="991.90" width="15.45" height="14.00" fill="#f7941d"/>
<rect x="205.00" y="991.90" width="15.45" height="14.00" fill="#4d0b25"/>
<rect x="220.15" y="991.90" width="76.05" height="14.00" fill="#f2e600"/>
<rect x="295.90" y="991.90" width="30.60" height="14.00" fill="#f3ea2c"/>
<rect x="326.20" y="991.90" width="15.45" height="14.00" fill="#f2e600"/>
<rect x="341.35" y="991.90" width="30.60" height="14.00" fill="#f26522"/>
<rect x="371.65" y="991.90" width="45.75" height="14.00" fill="#f2e600"/>
<rect x="417.10" y="991.90" width="15.45" height="14.00" fill="#f5ee7c"/>
<rect x="432.25" y="991.90" width="45.75" height="14.00" fill="#f2e600"/>
<rect x="477.70" y="991.90" width="15.45" height="14.00" fill="#f5ee7c"/>
<rect x="492.85" y="991.90" width="45.75" height="14.00" fill="#f3e80c"/>
<rect x="538.30" y="991.90" width="30.60" height="14.00" fill="#f5ee7c"/>
<rect x="568.60" y="991.90" width="30.60" height="14.00" fill="#f3e80c"/>
<rect x="598.90" y="991.90" width="15.45" height="14.00" fill="#f5ee7c"/>
<rect x="614.05" y="991.90" width="15.45" height="14.00" fill="#f3e80c"/>
<rect x="629.20" y="991.90" width="45.75" height="14.00" fill="#f5ee7c"/>
<rect x="674.65" y="991.90" width="15.45" height="14.00" fill="#f3e80c"/>
<rect x="689.80" y="991.90" width="15.45" height="14.00" fill="#f5ee7c"/>
<rect x="704.95" y="991.90" width="15.45" height="14.00" fill="#f3e80c"/>
<rect x="720.10" y="991.90" width="15.45" height="14.00" fill="#f7941d"/>
</g>
<g stroke="#333" stroke-width="1.3" fill="none">
<line x1="101" y1="61.1" x2="101" y2="471.6"/>
<line x1="89.3" y1="61.1" x2="101" y2="61.1"/>
<line x1="89.3" y1="198.0" x2="101" y2="198.0"/>
<line x1="89.3" y1="334.9" x2="101" y2="334.9"/>
<line x1="89.3" y1="471.6" x2="101" y2="471.6"/>
<line x1="159.8" y1="507.9" x2="584" y2="507.9"/>
<line x1="159.8" y1="507.9" x2="159.8" y2="519.4"/>
<line x1="301.2" y1="507.9" x2="301.2" y2="519.4"/>
<line x1="442.6" y1="507.9" x2="442.6" y2="519.4"/>
<line x1="584" y1="507.9" x2="584" y2="519.4"/>
</g>
<line x1="301.1" y1="18.5" x2="301.1" y2="507" stroke="#2a2a2a" stroke-width="1.7" stroke-dasharray="1.9 2.75"/>
<line x1="101" y1="335" x2="678" y2="335" stroke="#2a2a2a" stroke-width="1.7" stroke-dasharray="1.9 2.85"/>
<polygon points="280.4,34.4 275.5,109 253.8,172.7 219.7,122.9 219.7,110.6" fill="#80a985" stroke="#111" stroke-width="1.15" stroke-linejoin="round" />
<polygon points="207.5,416.2 207.5,483.3 177.9,489.4 192.6,446.5 196.2,432 200.6,422.5" fill="#eb9a78" stroke="#111" stroke-width="1.15" stroke-linejoin="round" />
<polygon points="229.1,375.7 235.8,387.2 244.3,422 188.8,472.5 193.8,431.8" fill="#a9d69b" stroke="#111" stroke-width="1.15" stroke-linejoin="round" />
<clipPath id="cs"><polygon points="229.1,375.7 235.8,387.2 244.3,422 188.8,472.5 193.8,431.8"/></clipPath>
<polygon points="207.5,416.2 207.5,483.3 177.9,489.4 192.6,446.5 196.2,432 200.6,422.5" fill="#60b95e" stroke="#1f8a3c" stroke-width="1.5" stroke-linejoin="round" clip-path="url(#cs)"/>
<polygon points="229.1,375.7 235.8,387.2 244.3,422 188.8,472.5 193.8,431.8" fill="none" stroke="#111" stroke-width="1.15" stroke-linejoin="round"/>
<polygon points="519.4,307.6 581,358.8 600.4,443.2 517.2,400.6 499.1,348.3" fill="#a97b5f" stroke="#111" stroke-width="1.15" stroke-linejoin="round" />
<line x1="101" y1="335" x2="560" y2="335" stroke="#2a2a2a" stroke-width="1.7" stroke-dasharray="1.9 2.85"/>
<text x="0" y="0" font-size="35" fill="#111" font-weight="normal" text-anchor="start" transform="translate(90.2,34.9) scale(0.96,1)">A</text>
<text x="0" y="0" font-size="23.5" fill="#222" font-weight="normal" text-anchor="middle" transform="translate(48.5,64.2) rotate(-90) scale(0.94,1)">CAP2 5%</text>
<text x="0" y="0" font-size="18.8" fill="#222" font-weight="normal" text-anchor="middle" transform="translate(73.8,60.800000000000004) rotate(-90)">1.0</text>
<text x="0" y="0" font-size="18.8" fill="#222" font-weight="normal" text-anchor="middle" transform="translate(73.8,197.7) rotate(-90)">0.5</text>
<text x="0" y="0" font-size="18.8" fill="#222" font-weight="normal" text-anchor="middle" transform="translate(73.8,334.59999999999997) rotate(-90)">0.0</text>
<text x="0" y="0" font-size="18.8" fill="#222" font-weight="normal" text-anchor="middle" transform="translate(73.8,471.3) rotate(-90)">-0.5</text>
<text x="159.8" y="549.2" font-size="19.5" fill="#222" font-weight="normal" text-anchor="middle" >-0.5</text>
<text x="301.2" y="549.2" font-size="19.5" fill="#222" font-weight="normal" text-anchor="middle" >0.0</text>
<text x="442.6" y="549.2" font-size="19.5" fill="#222" font-weight="normal" text-anchor="middle" >0.5</text>
<text x="584" y="549.2" font-size="19.5" fill="#222" font-weight="normal" text-anchor="middle" >1.0</text>
<text x="0" y="0" font-size="24" fill="#222" font-weight="normal" text-anchor="middle" transform="translate(369.5,572.4) scale(0.94,1)">CAP1 26%</text>
<text x="0" y="0" font-size="31.5" fill="#1b7a46" font-weight="bold" text-anchor="start" transform="translate(199.6,65.5) scale(0.915,1)">5L</text>
<text x="0" y="0" font-size="31" fill="#d4552c" font-weight="bold" text-anchor="start" transform="translate(117.6,468.6) scale(0.955,1)">5TK</text>
<text x="0" y="0" font-size="31" fill="#5fb655" font-weight="bold" text-anchor="start" transform="translate(224.3,468.6) scale(0.955,1)">5S</text>
<text x="0" y="0" font-size="29.7" fill="#3b2314" font-weight="bold" text-anchor="start" transform="translate(600.3,390.5) scale(0.98,1)">5Pi</text>
<rect x="557.6" y="4.6" width="168.9" height="149.9" fill="none" stroke="#333" stroke-width="1.2"/>
<line x1="553.2" y1="154.50" x2="557.6" y2="154.50" stroke="#333" stroke-width="1.1"/>
<text x="549.4" y="158.1" font-size="10" fill="#333" font-weight="normal" text-anchor="end" >0</text>
<line x1="553.2" y1="135.76" x2="557.6" y2="135.76" stroke="#333" stroke-width="1.1"/>
<text x="549.4" y="139.35999999999999" font-size="10" fill="#333" font-weight="normal" text-anchor="end" >50</text>
<line x1="553.2" y1="117.02" x2="557.6" y2="117.02" stroke="#333" stroke-width="1.1"/>
<text x="549.4" y="120.62" font-size="10" fill="#333" font-weight="normal" text-anchor="end" >100</text>
<line x1="553.2" y1="98.28" x2="557.6" y2="98.28" stroke="#333" stroke-width="1.1"/>
<text x="549.4" y="101.88" font-size="10" fill="#333" font-weight="normal" text-anchor="end" >150</text>
<line x1="553.2" y1="79.54" x2="557.6" y2="79.54" stroke="#333" stroke-width="1.1"/>
<text x="549.4" y="83.14" font-size="10" fill="#333" font-weight="normal" text-anchor="end" >200</text>
<line x1="553.2" y1="60.80" x2="557.6" y2="60.80" stroke="#333" stroke-width="1.1"/>
<text x="549.4" y="64.4" font-size="10" fill="#333" font-weight="normal" text-anchor="end" >250</text>
<line x1="553.2" y1="42.06" x2="557.6" y2="42.06" stroke="#333" stroke-width="1.1"/>
<text x="549.4" y="45.660000000000004" font-size="10" fill="#333" font-weight="normal" text-anchor="end" >300</text>
<line x1="553.2" y1="23.32" x2="557.6" y2="23.32" stroke="#333" stroke-width="1.1"/>
<text x="549.4" y="26.920000000000023" font-size="10" fill="#333" font-weight="normal" text-anchor="end" >350</text>
<line x1="553.2" y1="4.58" x2="557.6" y2="4.58" stroke="#333" stroke-width="1.1"/>
<text x="549.4" y="8.180000000000012" font-size="10" fill="#333" font-weight="normal" text-anchor="end" >400</text>
<text x="0" y="0" font-size="15" fill="#222" font-weight="normal" text-anchor="middle" transform="translate(526.6,63.2) rotate(-90)">Ranked distance</text>
<line x1="585.6" y1="12.6" x2="585.6" y2="154.5" stroke="#333" stroke-width="1.2"/><line x1="582.3000000000001" y1="12.6" x2="588.9" y2="12.6" stroke="#333" stroke-width="1.3"/><line x1="582.3000000000001" y1="154.5" x2="588.9" y2="154.5" stroke="#333" stroke-width="1.3"/><rect x="578.5" y="40" width="14.200000000000045" height="67.1" fill="#808080" stroke="#333" stroke-width="1.2"/><line x1="578.5" y1="69.9" x2="592.7" y2="69.9" stroke="#1e1e1e" stroke-width="1.3"/>
<line x1="613.75" y1="88.7" x2="613.75" y2="153.5" stroke="#333" stroke-width="1.2"/><line x1="610.45" y1="88.7" x2="617.05" y2="88.7" stroke="#333" stroke-width="1.3"/><line x1="610.45" y1="153.5" x2="617.05" y2="153.5" stroke="#333" stroke-width="1.3"/><rect x="606.6" y="119.7" width="14.299999999999955" height="29.10000000000001" fill="#b5412a" stroke="#333" stroke-width="1.2"/><line x1="606.6" y1="134.1" x2="620.9" y2="134.1" stroke="#1e1e1e" stroke-width="1.3"/>
<line x1="641.8" y1="68.2" x2="641.8" y2="145.8" stroke="#333" stroke-width="1.2"/><line x1="638.5" y1="68.2" x2="645.0999999999999" y2="68.2" stroke="#333" stroke-width="1.3"/><line x1="638.5" y1="145.8" x2="645.0999999999999" y2="145.8" stroke="#333" stroke-width="1.3"/><rect x="634.6" y="89.5" width="14.399999999999977" height="29.599999999999994" fill="#3e1f12" stroke="#333" stroke-width="1.2"/><line x1="634.6" y1="113.7" x2="649" y2="113.7" stroke="#1e1e1e" stroke-width="1.3"/>
<line x1="670.0999999999999" y1="56.8" x2="670.0999999999999" y2="152.5" stroke="#333" stroke-width="1.2"/><line x1="666.8" y1="56.8" x2="673.3999999999999" y2="56.8" stroke="#333" stroke-width="1.3"/><line x1="666.8" y1="152.5" x2="673.3999999999999" y2="152.5" stroke="#333" stroke-width="1.3"/><rect x="662.8" y="75.4" width="14.600000000000023" height="41.5" fill="#138046" stroke="#333" stroke-width="1.2"/><line x1="662.8" y1="87.7" x2="677.4" y2="87.7" stroke="#1e1e1e" stroke-width="1.3"/>
<line x1="698.15" y1="78.7" x2="698.15" y2="150.7" stroke="#333" stroke-width="1.2"/><line x1="694.85" y1="78.7" x2="701.4499999999999" y2="78.7" stroke="#333" stroke-width="1.3"/><line x1="694.85" y1="150.7" x2="701.4499999999999" y2="150.7" stroke="#333" stroke-width="1.3"/><rect x="691" y="109.3" width="14.299999999999955" height="26.89999999999999" fill="#5dbf4c" stroke="#333" stroke-width="1.2"/><line x1="691" y1="130.3" x2="705.3" y2="130.3" stroke="#1e1e1e" stroke-width="1.3"/>
<text x="583.4" y="169" font-size="15" fill="#111" font-weight="bold" text-anchor="middle" >B</text>
<text x="613.8" y="169" font-size="15" fill="#111" font-weight="bold" text-anchor="middle" >5Tk</text>
<text x="641.8" y="169" font-size="15" fill="#111" font-weight="bold" text-anchor="middle" >5Pi</text>
<text x="670.4" y="169" font-size="15" fill="#111" font-weight="bold" text-anchor="middle" >5L</text>
<text x="697" y="169" font-size="15" fill="#111" font-weight="bold" text-anchor="middle" >5S</text>
<text x="635.1" y="186.6" font-size="14.8" fill="#222" font-weight="normal" text-anchor="middle" >ANOSIM: R=0.552, P&lt;0.001</text>
<text x="0" y="0" font-size="35.8" fill="#111" font-weight="normal" text-anchor="middle" transform="translate(712,33.4) scale(0.98,1)">B</text>
<text x="0" y="0" font-size="36" fill="#111" font-weight="normal" text-anchor="middle" transform="translate(711,583.4) scale(0.98,1)">C</text>
<polygon points="40.9,680.6 141.8,621.9 141.8,705.6" fill="#b9cdb9" stroke="#333" stroke-width="0.9"/>
<polygon points="58.3,783.5 141.8,720.5 141.8,803.4" fill="#d6e5cc" stroke="#333" stroke-width="0.9"/>
<polygon points="65.6,855.1 142.1,818.7 142.1,902.4" fill="#dfc1ab" stroke="#333" stroke-width="0.9"/>
<polygon points="49.6,950.9 142.1,916.7 142.1,1000.4" fill="#b1aaa5" stroke="#333" stroke-width="0.9"/>
<text x="0" y="0" font-size="32.5" fill="#162c1a" font-weight="bold" text-anchor="start" transform="translate(95.6,676.7) scale(0.9,1)">5L</text>
<text x="0" y="0" font-size="32" fill="#17331c" font-weight="bold" text-anchor="start" transform="translate(99.6,781.7) scale(0.93,1)">5S</text>
<text x="0" y="0" font-size="31.5" fill="#111" font-weight="bold" text-anchor="start" transform="translate(85.5,868.4) scale(0.95,1)">5TK</text>
<text x="0" y="0" font-size="31" fill="#111" font-weight="bold" text-anchor="start" transform="translate(91.2,963.7) scale(0.97,1)">5Pi</text>
<g stroke="#9aa2c6" stroke-width="1.3" fill="none">
<polyline points="40.9,680.6 40.9,819"/>
<polyline points="40.9,750.2 0.8,750.2 0.8,950.4 49.6,950.4"/>
<polyline points="40.9,819 57.7,819"/>
<polyline points="58.3,783.5 57.7,783.5 57.7,855.1 65.6,855.1"/>
</g>
<g stroke="#333" stroke-width="0.8" fill="none">
<line x1="193" y1="593.7" x2="488.3" y2="593.7"/>
<line x1="193" y1="593.7" x2="193" y2="611"/>
<line x1="488.3" y1="593.7" x2="488.3" y2="607.2"/>
<line x1="174.3" y1="611" x2="211.8" y2="611"/>
<line x1="211.8" y1="611" x2="211.8" y2="622"/>
<line x1="174.3" y1="611" x2="174.3" y2="615.2"/>
<line x1="158.8" y1="615.2" x2="189" y2="615.2"/>
<line x1="158.8" y1="615.2" x2="158.8" y2="617.2"/>
<line x1="189" y1="615.2" x2="189" y2="617.5"/>
<line x1="151.2" y1="617.2" x2="166.5" y2="617.2"/>
<line x1="151.2" y1="617.2" x2="151.2" y2="622"/>
<line x1="166.5" y1="617.2" x2="166.5" y2="622"/>
<line x1="180.8" y1="617.5" x2="196.1" y2="617.5"/>
<line x1="180.8" y1="617.5" x2="180.8" y2="622"/>
<line x1="196.1" y1="617.5" x2="196.1" y2="622"/>
<line x1="319" y1="607.2" x2="657.9" y2="607.2"/>
<line x1="319" y1="607.2" x2="319" y2="615.8"/>
<line x1="657.9" y1="607.2" x2="657.9" y2="609.5"/>
<line x1="587.6" y1="609.5" x2="727.4" y2="609.5"/>
<line x1="727.4" y1="609.5" x2="727.4" y2="622"/>
<line x1="587.6" y1="609.5" x2="587.6" y2="613.7"/>
<line x1="505.7" y1="613.7" x2="670.2" y2="613.7"/>
<line x1="505.7" y1="613.7" x2="505.7" y2="617"/>
<line x1="670.2" y1="613.7" x2="670.2" y2="615.8"/>
<line x1="238" y1="616.4" x2="318" y2="616.4"/>
<line x1="318" y1="615.8" x2="318" y2="616.4"/>
<line x1="348.7" y1="616.3" x2="425" y2="616.3"/>
<line x1="409" y1="616.8" x2="470" y2="616.8"/>
<line x1="470" y1="617.2" x2="530.5" y2="617.2"/>
<line x1="545.7" y1="617.2" x2="591.4" y2="617.2"/>
<line x1="630" y1="616.2" x2="706" y2="616.2"/>
<line x1="605.5" y1="616.8" x2="666.4" y2="616.8"/>
<line x1="227.72500000000002" y1="618.6" x2="258.025" y2="618.6"/>
<line x1="227.72500000000002" y1="618.6" x2="227.72500000000002" y2="622"/>
<line x1="242.875" y1="618.6" x2="242.875" y2="622"/>
<line x1="258.025" y1="618.6" x2="258.025" y2="622"/>
<line x1="273.175" y1="618.6" x2="333.775" y2="618.6"/>
<line x1="273.175" y1="618.6" x2="273.175" y2="622"/>
<line x1="288.32500000000005" y1="618.6" x2="288.32500000000005" y2="622"/>
<line x1="303.475" y1="618.6" x2="303.475" y2="622"/>
<line x1="318.625" y1="618.6" x2="318.625" y2="622"/>
<line x1="333.775" y1="618.6" x2="333.775" y2="622"/>
<line x1="348.925" y1="618.6" x2="394.375" y2="618.6"/>
<line x1="348.925" y1="618.6" x2="348.925" y2="622"/>
<line x1="364.07500000000005" y1="618.6" x2="364.07500000000005" y2="622"/>
<line x1="379.225" y1="618.6" x2="379.225" y2="622"/>
<line x1="394.375" y1="618.6" x2="394.375" y2="622"/>
<line x1="409.525" y1="618.6" x2="470.125" y2="618.6"/>
<line x1="409.525" y1="618.6" x2="409.525" y2="622"/>
<line x1="424.67500000000007" y1="618.6" x2="424.67500000000007" y2="622"/>
<line x1="439.82500000000005" y1="618.6" x2="439.82500000000005" y2="622"/>
<line x1="454.975" y1="618.6" x2="454.975" y2="622"/>
<line x1="470.125" y1="618.6" x2="470.125" y2="622"/>
<line x1="485.275" y1="618.6" x2="530.725" y2="618.6"/>
<line x1="485.275" y1="618.6" x2="485.275" y2="622"/>
<line x1="500.42500000000007" y1="618.6" x2="500.42500000000007" y2="622"/>
<line x1="515.575" y1="618.6" x2="515.575" y2="622"/>
<line x1="530.725" y1="618.6" x2="530.725" y2="622"/>
<line x1="545.875" y1="618.6" x2="591.325" y2="618.6"/>
<line x1="545.875" y1="618.6" x2="545.875" y2="622"/>
<line x1="561.025" y1="618.6" x2="561.025" y2="622"/>
<line x1="576.1750000000001" y1="618.6" x2="576.1750000000001" y2="622"/>
<line x1="591.325" y1="618.6" x2="591.325" y2="622"/>
<line x1="606.475" y1="618.6" x2="667.075" y2="618.6"/>
<line x1="606.475" y1="618.6" x2="606.475" y2="622"/>
<line x1="621.625" y1="618.6" x2="621.625" y2="622"/>
<line x1="636.775" y1="618.6" x2="636.775" y2="622"/>
<line x1="651.9250000000001" y1="618.6" x2="651.9250000000001" y2="622"/>
<line x1="667.075" y1="618.6" x2="667.075" y2="622"/>
<line x1="682.225" y1="618.6" x2="712.525" y2="618.6"/>
<line x1="682.225" y1="618.6" x2="682.225" y2="622"/>
<line x1="697.375" y1="618.6" x2="697.375" y2="622"/>
<line x1="712.525" y1="618.6" x2="712.525" y2="622"/>
</g>
<text x="9" y="997.9" font-size="12.4" fill="#333" font-weight="normal" text-anchor="start" >LOG2 Numbers</text>
<defs><linearGradient id="lg" x1="0" x2="1" y1="0" y2="0"><stop offset="0" stop-color="#ffffff"/><stop offset="0.12" stop-color="#fbf5c0"/><stop offset="0.28" stop-color="#f2e62a"/><stop offset="0.42" stop-color="#f6b080"/><stop offset="0.55" stop-color="#ee3a3a"/><stop offset="0.7" stop-color="#e41e24"/><stop offset="0.78" stop-color="#8a1a1a"/><stop offset="1" stop-color="#4a0c10"/></linearGradient></defs>
<rect x="23.9" y="1003.9" width="58.1" height="11.7" fill="url(#lg)"/>
<text x="17.5" y="1026.3" font-size="9" fill="#333" font-weight="normal" text-anchor="middle" >0</text>
<text x="29" y="1026.3" font-size="9" fill="#333" font-weight="normal" text-anchor="middle" >2</text>
<text x="39.5" y="1026.3" font-size="9" fill="#333" font-weight="normal" text-anchor="middle" >4</text>
<text x="53" y="1026.3" font-size="9" fill="#333" font-weight="normal" text-anchor="middle" >6</text>
<text x="66.4" y="1026.3" font-size="9" fill="#333" font-weight="normal" text-anchor="middle" >8</text>
<text x="81.5" y="1026.3" font-size="9" fill="#333" font-weight="normal" text-anchor="middle" >10</text>
</svg></body></html>
